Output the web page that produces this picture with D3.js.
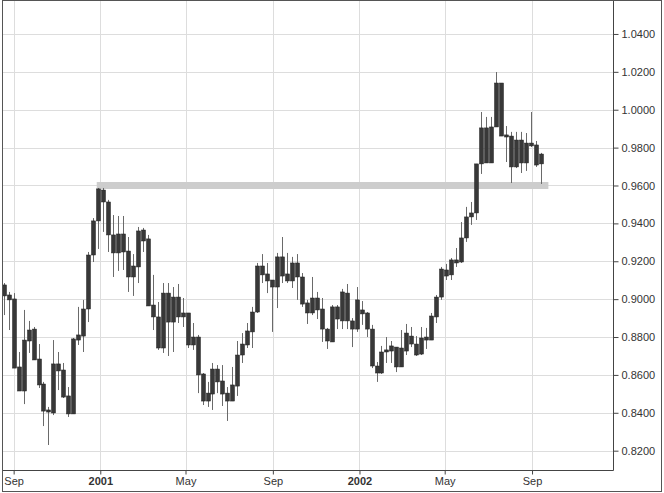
<!DOCTYPE html>
<html>
<head>
<meta charset="utf-8">
<script src="https://cdn.jsdelivr.net/npm/d3@7"></script>
<style>
    body { margin: 0; background: #fff; }
    svg { display: block; font-family: "Liberation Sans", Arial, sans-serif; }
</style>
</head>
<body>
<div id="chart"></div>
<script>
// weekly bars, first one is Friday 18 Aug 2000
var firstWeek = "2000-08-18";

var open = [0.9075, 0.9022, 0.9001, 0.8642, 0.8515, 0.8779, 0.8842, 0.8684, 0.8552, 0.8415,
    0.8399, 0.8658, 0.8626, 0.8489, 0.8394, 0.8784, 0.8805, 0.8948, 0.9233, 0.9413,
    0.9576, 0.9513, 0.9339, 0.9244, 0.9344, 0.9254, 0.9117, 0.9170, 0.9365, 0.9318,
    0.8969, 0.8906, 0.8742, 0.9032, 0.8879, 0.9011, 0.8906, 0.8927, 0.8758, 0.8800,
    0.8605, 0.8462, 0.8499, 0.8631, 0.8568, 0.8504, 0.8462, 0.8541, 0.8705, 0.8758,
    0.8827, 0.8932, 0.9175, 0.9133, 0.9101, 0.9064, 0.9223, 0.9133, 0.9096, 0.9191,
    0.9117, 0.8980, 0.8927, 0.9006, 0.8948, 0.8842, 0.8774, 0.8959, 0.8885, 0.9032,
    0.8885, 0.8842, 0.8943, 0.8927, 0.8842, 0.8647, 0.8610, 0.8721, 0.8753, 0.8747,
    0.8642, 0.8726, 0.8805, 0.8763, 0.8710, 0.8784, 0.8784, 0.8906, 0.9011, 0.9154,
    0.9128, 0.9207, 0.9196, 0.9323, 0.9434, 0.9455, 0.9714, 0.9904, 0.9719, 0.9909,
    1.0141, 0.9867, 0.9861, 0.9698, 0.9840, 0.9719, 0.9824, 0.9814, 0.9714];

var high = [0.9085, 0.9038, 0.9032, 0.8721, 0.8943, 0.8885, 0.8853, 0.8763, 0.8563, 0.8431,
    0.8784, 0.8721, 0.8663, 0.8536, 0.8795, 0.8959, 0.8996, 0.9249, 0.9428, 0.9587,
    0.9587, 0.9524, 0.9444, 0.9439, 0.9439, 0.9328, 0.9238, 0.9381, 0.9376, 0.9339,
    0.9128, 0.8985, 0.9085, 0.9085, 0.9064, 0.9080, 0.9006, 0.8927, 0.8874, 0.8811,
    0.8610, 0.8563, 0.8663, 0.8652, 0.8652, 0.8536, 0.8642, 0.8779, 0.8821, 0.8874,
    0.8959, 0.9191, 0.9238, 0.9191, 0.9101, 0.9244, 0.9328, 0.9244, 0.9223, 0.9238,
    0.9138, 0.8996, 0.9117, 0.9038, 0.9006, 0.8848, 0.8969, 0.8969, 0.9054, 0.9080,
    0.8900, 0.9064, 0.8990, 0.8932, 0.8864, 0.8668, 0.8753, 0.8800, 0.8779, 0.8747,
    0.8837, 0.8869, 0.8853, 0.8805, 0.8853, 0.8848, 0.8927, 0.9022, 0.9170, 0.9186,
    0.9217, 0.9270, 0.9407, 0.9487, 0.9513, 0.9714, 0.9988, 0.9962, 0.9962, 1.0199,
    1.0141, 0.9914, 0.9883, 0.9883, 0.9883, 0.9877, 0.9988, 0.9835, 0.9772];

var low = [0.8916, 0.8837, 0.8636, 0.8515, 0.8446, 0.8716, 0.8679, 0.8531, 0.8330, 0.8230,
    0.8388, 0.8520, 0.8478, 0.8378, 0.8394, 0.8758, 0.8721, 0.8879, 0.9196, 0.9265,
    0.9355, 0.9249, 0.9117, 0.9149, 0.9154, 0.9038, 0.9017, 0.9085, 0.9249, 0.8964,
    0.8837, 0.8732, 0.8716, 0.8700, 0.8721, 0.8874, 0.8853, 0.8742, 0.8732, 0.8504,
    0.8441, 0.8431, 0.8415, 0.8504, 0.8436, 0.8357, 0.8462, 0.8489, 0.8663, 0.8742,
    0.8742, 0.8927, 0.9085, 0.9032, 0.8827, 0.8953, 0.9085, 0.9085, 0.9059, 0.8996,
    0.8959, 0.8869, 0.8916, 0.8895, 0.8774, 0.8737, 0.8774, 0.8842, 0.8842, 0.8842,
    0.8747, 0.8827, 0.8864, 0.8800, 0.8636, 0.8563, 0.8605, 0.8663, 0.8663, 0.8615,
    0.8642, 0.8705, 0.8747, 0.8700, 0.8705, 0.8737, 0.8784, 0.8874, 0.8996, 0.9101,
    0.9101, 0.9170, 0.9191, 0.9302, 0.9392, 0.9418, 0.9661, 0.9719, 0.9719, 0.9909,
    0.9861, 0.9724, 0.9613, 0.9692, 0.9666, 0.9677, 0.9803, 0.9698, 0.9608];

var close = [0.9017, 0.8996, 0.8636, 0.8515, 0.8784, 0.8837, 0.8679, 0.8547, 0.8409, 0.8404,
    0.8658, 0.8621, 0.8483, 0.8394, 0.8790, 0.8811, 0.8948, 0.9233, 0.9413, 0.9582,
    0.9513, 0.9339, 0.9244, 0.9344, 0.9249, 0.9117, 0.9175, 0.9360, 0.9307, 0.8964,
    0.8906, 0.8742, 0.9032, 0.8879, 0.9011, 0.8906, 0.8927, 0.8758, 0.8800, 0.8600,
    0.8462, 0.8504, 0.8631, 0.8563, 0.8499, 0.8462, 0.8547, 0.8705, 0.8763, 0.8832,
    0.8932, 0.9175, 0.9128, 0.9096, 0.9064, 0.9223, 0.9122, 0.9096, 0.9191, 0.9117,
    0.8974, 0.8927, 0.9006, 0.8943, 0.8842, 0.8779, 0.8959, 0.8895, 0.9038, 0.8885,
    0.8842, 0.8996, 0.8922, 0.8842, 0.8647, 0.8610, 0.8721, 0.8732, 0.8726, 0.8642,
    0.8742, 0.8821, 0.8763, 0.8705, 0.8795, 0.8800, 0.8911, 0.9011, 0.9159, 0.9122,
    0.9207, 0.9191, 0.9323, 0.9434, 0.9455, 0.9714, 0.9904, 0.9719, 0.9909, 1.0141,
    0.9861, 0.9856, 0.9698, 0.9840, 0.9719, 0.9824, 0.9809, 0.9708, 0.9766];

var priceTicks = [0.82, 0.84, 0.86, 0.88, 0.90, 0.92, 0.94, 0.96, 0.98, 1.00, 1.02, 1.04];
var monthNames = ["Jan", "Feb", "Mar", "Apr", "May", "Jun", "Jul", "Aug", "Sep", "Oct", "Nov", "Dec"];

// grey support band drawn across the chart
var supportLevel = 0.96;
var supportDates = ["2000-12-27", "2002-09-24"];

var W = 664, H = 493;
var plotL = 3, plotR = 613, plotT = 1, plotB = 470;

var parse = d3.utcParse("%Y-%m-%d");
var start = parse(firstWeek);
var dates = open.map(function (d, i) { return d3.utcDay.offset(start, 7 * i) });

var x = d3.scaleUtc()
    .domain([parse("2000-08-17"), parse("2002-12-24")])
    .range([plotL, plotR]);

var y = d3.scaleLinear()
    .domain([0.8098, 1.0574])
    .range([plotB, plotT]);

var svg = d3.select("#chart")
    .append("svg")
    .attr("width", W)
    .attr("height", H);

svg.append("rect")
    .attr("width", W)
    .attr("height", H)
    .attr("fill", "#fff");

svg.append("clipPath")
    .attr("id", "plotClip")
    .append("rect")
    .attr("x", plotL)
    .attr("y", plotT)
    .attr("width", plotR - plotL)
    .attr("height", plotB - plotT);

var xTicks = x.ticks(d3.utcMonth.every(4));

// grid
var grid = svg.append("g")
    .attr("stroke", "#dddddd")
    .attr("shape-rendering", "crispEdges");

grid.selectAll(".hg")
    .data(priceTicks)
    .join("line")
    .attr("x1", plotL)
    .attr("x2", plotR)
    .attr("y1", function (d) { return Math.round(y(d)) + 0.5 })
    .attr("y2", function (d) { return Math.round(y(d)) + 0.5 });

grid.selectAll(".vg")
    .data(xTicks)
    .join("line")
    .attr("x1", function (d) { return Math.round(x(d)) + 0.5 })
    .attr("x2", function (d) { return Math.round(x(d)) + 0.5 })
    .attr("y1", plotT)
    .attr("y2", plotB);

var plot = svg.append("g")
    .attr("clip-path", "url(#plotClip)");

plot.append("rect")
    .attr("x", x(parse(supportDates[0])))
    .attr("width", x(parse(supportDates[1])) - x(parse(supportDates[0])))
    .attr("y", y(supportLevel) - 3.5)
    .attr("height", 7)
    .attr("fill", "#cdcdcd");

var candles = plot.selectAll(".candle")
    .data(dates)
    .join("g")
    .attr("class", "candle");

candles.append("line")
    .attr("x1", function (d) { return Math.round(x(d)) + 0.5 })
    .attr("x2", function (d) { return Math.round(x(d)) + 0.5 })
    .attr("y1", function (d, i) { return y(high[i]) })
    .attr("y2", function (d, i) { return y(low[i]) })
    .attr("stroke", "#6a6a6a")
    .attr("stroke-width", 1);

candles.append("rect")
    .attr("x", function (d) { return Math.round(x(d)) - 1.5 })
    .attr("width", 4)
    .attr("y", function (d, i) { return y(Math.max(open[i], close[i])) })
    .attr("height", function (d, i) { return Math.max(1.5, Math.abs(y(open[i]) - y(close[i]))) })
    .attr("fill", "#383838")
    .attr("stroke", "#222")
    .attr("stroke-width", 0.5);

// axes
var yAxis = svg.append("g")
    .attr("transform", "translate(" + (plotR + 0.5) + ",0)")
    .call(d3.axisRight(y)
        .tickValues(priceTicks)
        .tickFormat(d3.format(".4f"))
        .tickSize(5)
        .tickPadding(3));

var xAxis = svg.append("g")
    .attr("transform", "translate(0," + (plotB + 0.5) + ")")
    .call(d3.axisBottom(x)
        .tickValues(xTicks)
        .tickFormat(function (d) {
            return d.getUTCMonth() === 0 ? d.getUTCFullYear() : monthNames[d.getUTCMonth()]
        })
        .tickSize(4)
        .tickPadding(3));

svg.selectAll(".domain").remove();
svg.selectAll(".tick line").attr("stroke", "#444");
svg.selectAll(".tick text")
    .attr("fill", "#333")
    .attr("font-size", 11)
    .attr("font-family", "Liberation Sans, Arial, sans-serif");

xAxis.selectAll(".tick text")
    .attr("font-weight", function (d) { return d.getUTCMonth() === 0 ? "bold" : "normal" });

// plot frame and outer frame
svg.append("path")
    .attr("d", "M" + (plotL - 0.5) + "," + (plotT - 0.5) + "V" + (plotB + 0.5) + "H" + (plotR + 0.5) + "V" + (plotT - 0.5))
    .attr("fill", "none")
    .attr("stroke", "#444");

svg.append("rect")
    .attr("x", 2.5)
    .attr("y", 0.5)
    .attr("width", 659)
    .attr("height", 491)
    .attr("fill", "none")
    .attr("stroke", "#555");
</script>
</body>
</html>
